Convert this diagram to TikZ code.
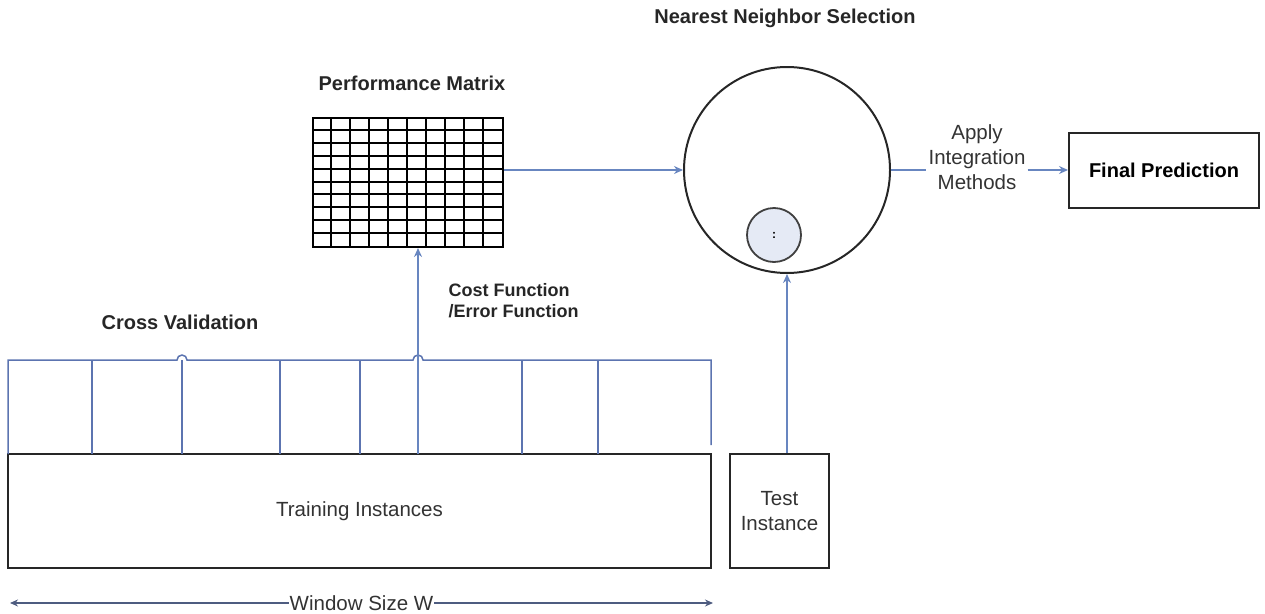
\documentclass[tikz,border=0pt]{standalone}
\usepackage{fontspec}
\setmainfont{Liberation Sans}
\usetikzlibrary{arrows.meta,calc}
\definecolor{linkblue}{RGB}{104,134,192}
\definecolor{foldblue}{RGB}{92,116,176}
\definecolor{bubble}{RGB}{229,234,245}
\definecolor{rulergray}{RGB}{78,92,128}
\begin{document}
\begin{tikzpicture}[x=1pt,y=-1pt,
  box/.style={draw=black!85, line width=2pt, inner sep=0pt, fill=white},
  txt/.style={font=\fontsize{20.5}{25}\selectfont, align=center, text=black!80},
  heading/.style={font=\bfseries\fontsize{20}{24}\selectfont, text=black!85},
  link/.style={draw=linkblue, line width=1.6pt},
  arr/.style={link, -{Stealth[length=9pt,width=8pt]}},
  fold/.style={draw=foldblue, line width=1.5pt},
]
\useasboundingbox (0,0) rectangle (1265,613);

% titles
\node[heading] (tnn) at (785,18) {Nearest Neighbor Selection};
\node[heading] (tpm) at (412,83) {Performance Matrix};
\node[heading] (tcv) at (180,322) {Cross Validation};

% main boxes
\node[box, minimum width=703pt, minimum height=114pt, txt] (train) at (359.5,511) {Training Instances};
\node[box, minimum width=99pt, minimum height=114pt, txt] (test) at (779.5,511) {Test\\Instance};
\node[box, minimum width=190pt, minimum height=75pt, font=\bfseries\fontsize{20}{24}\selectfont] (fp) at (1164,170.5) {Final Prediction};

% nearest neighbour region
\node[circle, draw=black!85, line width=2pt, minimum size=206pt, inner sep=0pt] (nn) at (787,170) {};
\node[circle, draw=black!75, line width=1.8pt, fill=bubble, minimum size=54pt, inner sep=0pt, font=\bfseries\fontsize{12}{12}\selectfont] (q) at (774,235) {:};

% performance matrix grid
\node[draw=black, line width=2pt, minimum width=190pt, minimum height=129pt, inner sep=0pt] (pm) at (408,182.5) {};
\foreach \i in {1,...,9} {
  \draw[black, line width=2pt] ([xshift=\i*19pt]pm.north west) -- ([xshift=\i*19pt]pm.south west);
  \draw[black, line width=2pt] ([yshift=-\i*12.9pt]pm.north west) -- ([yshift=-\i*12.9pt]pm.north east);
}

% cross-validation folds, with line hops where the verticals cross
\coordinate (f0) at (8,360);
\draw[fold] (8,454) -- (f0) -- (177,360) arc[start angle=180, end angle=0, radius=5pt]
  -- (413,360) arc[start angle=180, end angle=0, radius=5pt] -- (711,360) -- (711,445);
\foreach \x in {92,182,280,360,522,598} {
  \draw[fold] (\x,360) -- (\x,454);
}

% cost function arrow
\coordinate (cf) at (418,454);
\draw[arr] (cf) -- (cf |- pm.south);
\node[anchor=west, align=left, font=\bfseries\fontsize{18}{21}\selectfont, text=black!85] (cost) at (445,301) {Cost Function\\/Error Function};

% matrix to neighbour selection
\draw[arr] (pm.east |- nn.west) -- (nn.west);
% test instance to neighbour selection
\draw[arr] (nn.south |- test.north) -- (nn.south);

% integration step
\node[txt, inner sep=2pt] (apply) at (977,157) {Apply\\Integration\\Methods};
\draw[link] (nn.east) -- (apply.west |- nn.east);
\draw[arr] (apply.east |- nn.east) -- (fp.west |- nn.east);

% window ruler
\coordinate (wl) at (10,603);
\coordinate (wr) at (713,603);
\draw[draw=rulergray, line width=1.5pt, {Stealth[length=8pt,width=7pt]}-{Stealth[length=8pt,width=7pt]}] (wl) -- node[fill=white, txt, inner sep=1pt] (wlab) {Window Size W} (wr);
\end{tikzpicture}
\end{document}
